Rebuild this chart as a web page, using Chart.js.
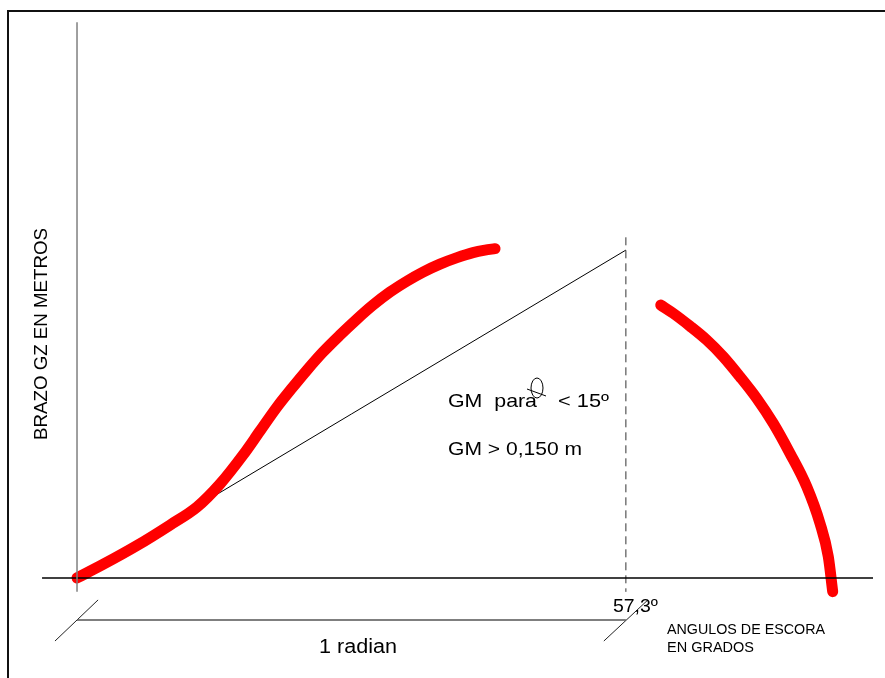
<!DOCTYPE html>
<html>
<head>
<meta charset="utf-8">
<title>Curva de brazos GZ</title>
<script src="https://cdn.jsdelivr.net/npm/chart.js@4/dist/chart.umd.min.js"></script>
<style>
  html, body { margin: 0; padding: 0; background: #fff; }
  canvas { display: block; }
</style>
</head>
<body>
<canvas id="gz" width="885" height="678"></canvas>
<script>
// Brazo adrizante GZ (m) frente al ángulo de escora (grados)
const heelRising = [0, 2.71, 6.26, 9.71, 12.53, 14.93, 17.33, 19.10, 20.88, 22.45, 24.01, 25.68,
                    27.46, 29.23, 30.90, 32.67, 34.45, 36.12, 37.89, 39.67, 41.34, 42.59, 43.64];
const gzRising   = [0, 0.0243, 0.0584, 0.0953, 0.1277, 0.1691, 0.2212, 0.2644, 0.3076, 0.3417, 0.3741, 0.4065,
                    0.4371, 0.4658, 0.4910, 0.5144, 0.5342, 0.5504, 0.5647, 0.5764, 0.5854, 0.5899, 0.5926];

const heelFalling = [60.94, 62.25, 63.99, 65.74, 67.47, 69.21, 70.96, 72.69, 74.43, 76.18, 77.56, 78.43, 78.89];
const gzFalling   = [0.4910, 0.4761, 0.4532, 0.4281, 0.3981, 0.3621, 0.3232, 0.2782, 0.2243, 0.1642, 0.0984, 0.0383, -0.0246];

// Tangente en el origen: a 1 radián (57,3º) alcanza GM
const radianDeg = 57.3;
const gmValue = 0.59;

// Extensión de los ejes dibujados
const axisXRange = [-3.65, 83.1];
const axisYRange = [-0.025, 1.0];
const radianMarkTop = 0.613;
const dimLineY = -0.0755;

const X_MIN = -8.04, X_MAX = 84.35, Y_MIN = -0.18, Y_MAX = 1.04;

const pts = (xs, ys) => xs.map((x, i) => ({ x, y: ys[i] }));

const FONT = '"Liberation Sans", Arial, Helvetica, sans-serif';

// Texto ajustado a un ancho dado
function fitText(ctx, str, x, y, size, width, rotate) {
  ctx.save();
  ctx.font = size + 'px ' + FONT;
  const w = ctx.measureText(str).width;
  ctx.translate(x, y);
  if (rotate) ctx.rotate(-Math.PI / 2);
  ctx.scale(width / w, 1);
  ctx.fillStyle = '#000';
  ctx.textBaseline = 'alphabetic';
  ctx.textAlign = 'left';
  ctx.fillText(str, 0, 0);
  ctx.restore();
}

const annotations = {
  id: 'annotations',
  beforeDraw(chart) {
    const ctx = chart.ctx;
    ctx.save();
    ctx.fillStyle = '#fff';
    ctx.fillRect(0, 0, chart.width, chart.height);
    // marco
    ctx.strokeStyle = '#111';
    ctx.lineWidth = 2;
    ctx.beginPath();
    ctx.moveTo(8, chart.height);
    ctx.lineTo(8, 11);
    ctx.lineTo(chart.width, 11);
    ctx.stroke();
    ctx.restore();
  },
  afterDraw(chart) {
    const ctx = chart.ctx;
    const xs = chart.scales.x;
    ctx.save();
    fitText(ctx, 'BRAZO GZ EN METROS', 47, 440, 18, 212, true);
    fitText(ctx, 'GM  para', 448, 407, 19, 89);
    fitText(ctx, '< 15º', 558, 407, 19, 51);
    fitText(ctx, 'GM > 0,150 m', 448, 455, 19, 134);
    fitText(ctx, '57,3º', xs.getPixelForValue(radianDeg) - 13, 612, 19, 45);
    fitText(ctx, '1 radian', 319, 653, 20, 78);
    fitText(ctx, 'ANGULOS DE ESCORA', 667, 634, 14, 158);
    fitText(ctx, 'EN GRADOS', 667, 652, 14, 87);

    // símbolo theta
    ctx.strokeStyle = '#000';
    ctx.lineWidth = 1;
    ctx.beginPath();
    ctx.ellipse(537, 388, 6, 10, 0, 0, Math.PI * 2);
    ctx.stroke();
    ctx.beginPath();
    ctx.moveTo(527, 389);
    ctx.lineTo(546, 396);
    ctx.stroke();
    ctx.restore();
  }
};

const thin = (color, width, extra) => Object.assign({
  borderColor: color, borderWidth: width, pointRadius: 0, fill: false, tension: 0, clip: false
}, extra || {});

const redCurve = (data) => ({
  data,
  borderColor: '#ff0000', borderWidth: 11, pointRadius: 0,
  cubicInterpolationMode: 'monotone',
  borderCapStyle: 'round', borderJoinStyle: 'round', clip: false
});

new Chart(document.getElementById('gz'), {
  type: 'line',
  data: {
    datasets: [
      thin('#808080', 1.5, { data: [{ x: 0, y: axisYRange[0] }, { x: 0, y: axisYRange[1] }] }),
      thin('#000', 1.5, { data: [{ x: axisXRange[0], y: 0 }, { x: axisXRange[1], y: 0 }] }),
      thin('#333', 1, { data: [{ x: radianDeg, y: radianMarkTop }, { x: radianDeg, y: axisYRange[0] }], borderDash: [8, 5] }),
      thin('#555', 1.5, { data: [{ x: 0, y: dimLineY }, { x: radianDeg, y: dimLineY }] }),
      thin('#222', 1, { data: [{ x: -2.3, y: dimLineY - 0.038 }, { x: 2.2, y: dimLineY + 0.036 }] }),
      thin('#222', 1, { data: [{ x: radianDeg - 2.3, y: dimLineY - 0.038 }, { x: radianDeg + 2.3, y: dimLineY + 0.036 }] }),
      redCurve(pts(heelRising, gzRising)),
      redCurve(pts(heelFalling, gzFalling)),
      thin('#000', 1, { data: [{ x: 0, y: 0 }, { x: radianDeg, y: gmValue }] })
    ]
  },
  options: {
    responsive: false,
    animation: false,
    devicePixelRatio: 1,
    layout: { padding: 0 },
    plugins: { legend: { display: false }, tooltip: { enabled: false } },
    scales: {
      x: { type: 'linear', min: X_MIN, max: X_MAX, display: false },
      y: { type: 'linear', min: Y_MIN, max: Y_MAX, display: false }
    }
  },
  plugins: [annotations]
});
</script>
</body>
</html>
